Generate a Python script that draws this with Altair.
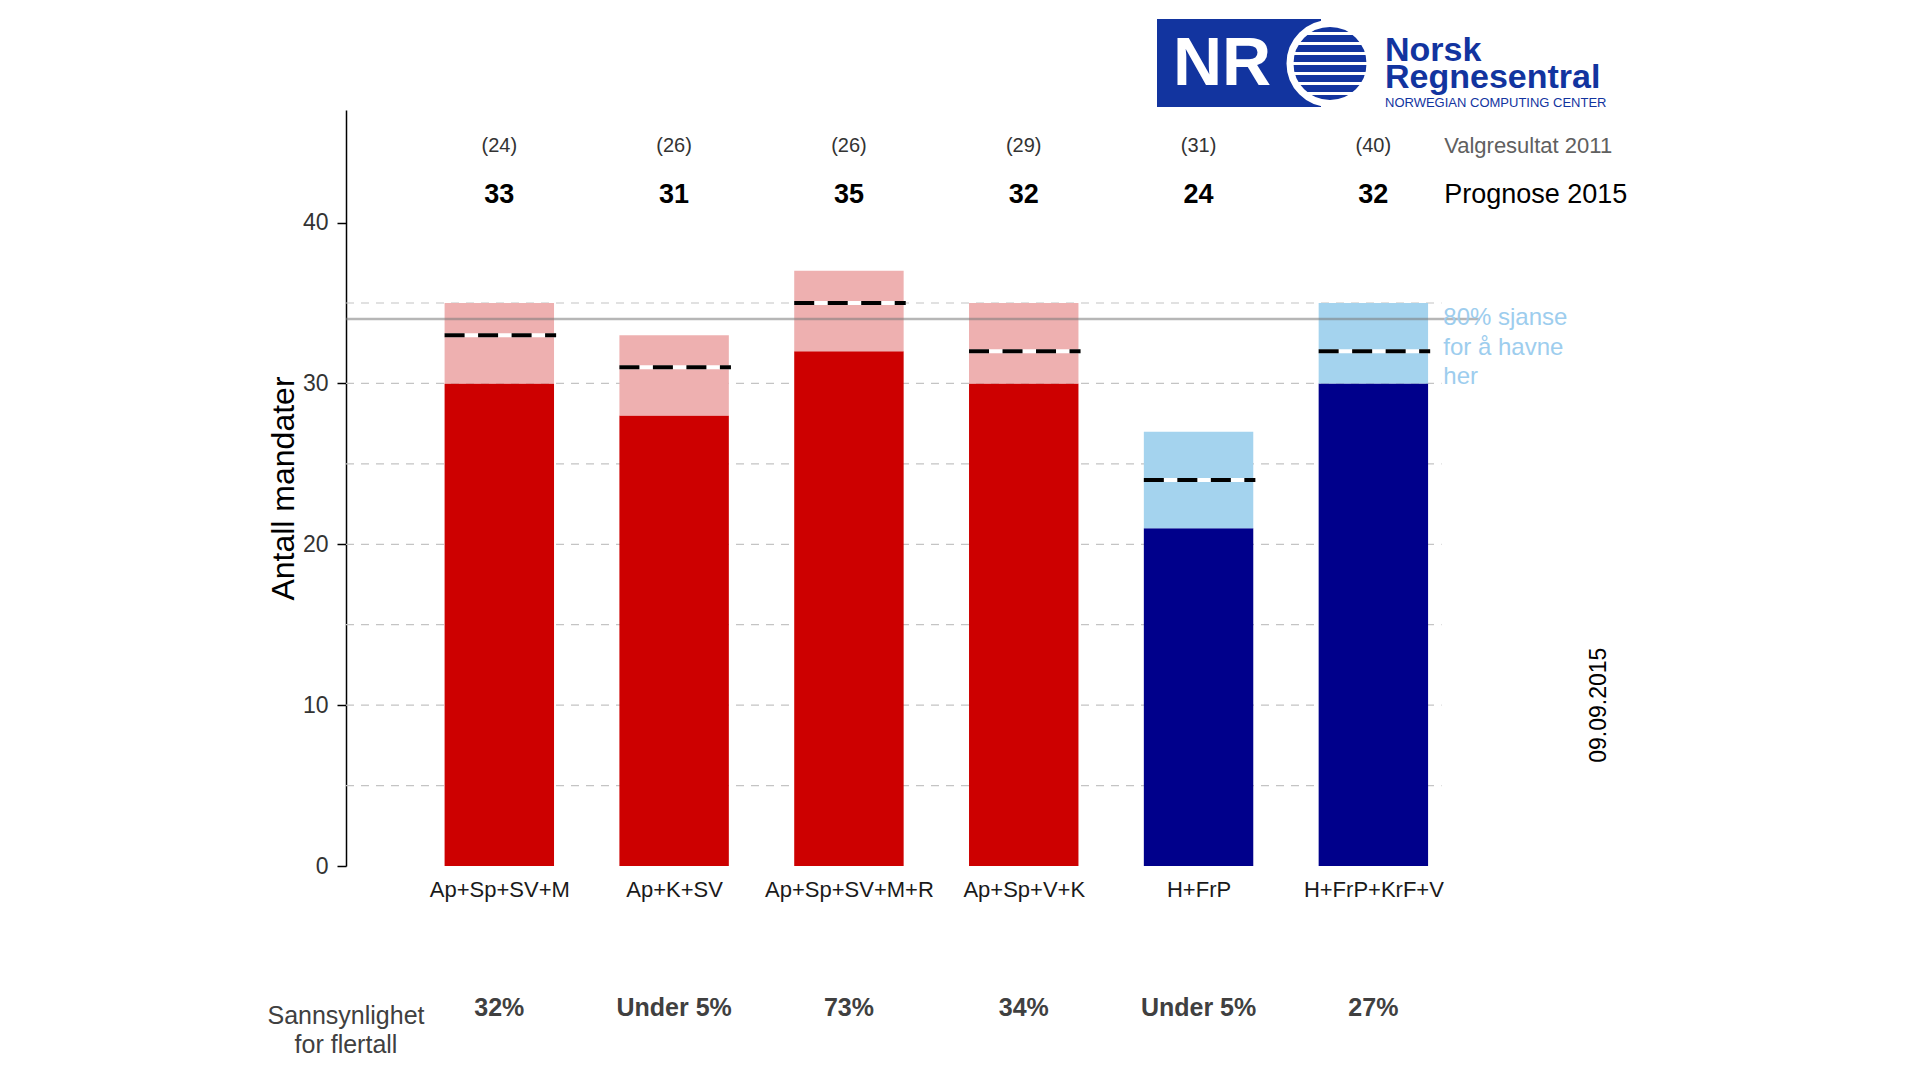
import json
import math
import altair as alt
import pandas as pd

# ---------------- data ----------------
categories = ["Ap+Sp+SV+M", "Ap+K+SV", "Ap+Sp+SV+M+R", "Ap+Sp+V+K", "H+FrP", "H+FrP+KrF+V"]
prognose_2015 = [33, 31, 35, 32, 24, 32]
valgresultat_2011 = [24, 26, 26, 29, 31, 40]
lav_80 = [30, 28, 32, 30, 21, 30]
hoy_80 = [35, 33, 37, 35, 27, 35]
sannsynlighet = ["32%", "Under 5%", "73%", "34%", "Under 5%", "27%"]
blokk = ["rødgrønn", "rødgrønn", "rødgrønn", "rødgrønn", "borgerlig", "borgerlig"]
grid_values = [5, 10, 15, 20, 25, 30, 35]
y_ticks = [0, 10, 20, 30, 40]
flertall = 34

FONT = "Liberation Sans"
X_MIN, X_MAX, GRID_END = 0.123, 6.61, 6.39
HALF = 0.313
W, H = 1134, 756

df = pd.DataFrame({
    "idx": list(range(1, len(categories) + 1)),
    "kat": categories,
    "prog": prognose_2015,
    "v2011": valgresultat_2011,
    "lo": lav_80,
    "hi": hoy_80,
    "sann": sannsynlighet,
    "blokk": blokk,
})

x_scale = alt.Scale(domain=[X_MIN, X_MAX], nice=False, zero=False)
y_scale = alt.Scale(domain=[0, 47], nice=False, zero=True)

label_expr = json.dumps(categories) + "[datum.value - 1]"
x_axis = alt.Axis(values=list(range(1, len(categories) + 1)), labelExpr=label_expr,
                  domain=False, ticks=False, grid=False, title=None,
                  labelFont=FONT, labelFontSize=22, labelColor="#1A1A1A",
                  labelPadding=13, labelOverlap=False, labelFlush=False, labelBound=False)
y_axis = alt.Axis(values=y_ticks, grid=False, title="Antall mandater",
                  domainColor="black", domainWidth=1.5, tickColor="black", tickWidth=1.5,
                  tickSize=9, labelPadding=9, labelFont=FONT, labelFontSize=23,
                  labelColor="#333333", titleFont=FONT, titleFontSize=32,
                  titleFontWeight="normal", titleColor="black", titlePadding=2,
                  labelFlush=False)

base = alt.Chart(df)

grid = alt.Chart(pd.DataFrame({"g": grid_values})).mark_rule(
    color="#C4C4C4", strokeWidth=1.2, strokeDash=[8, 7]
).encode(
    x=alt.XDatum(X_MIN, type="quantitative", scale=x_scale, axis=x_axis),
    x2=alt.X2Datum(GRID_END),
    y=alt.Y("g:Q", scale=y_scale, axis=y_axis),
)

dark_bars = base.mark_bar().transform_calculate(
    x0=f"datum.idx - {HALF}", x1=f"datum.idx + {HALF}"
).encode(
    x=alt.X("x0:Q", scale=x_scale, axis=x_axis),
    x2="x1:Q",
    y=alt.Y("lo:Q", scale=y_scale, axis=y_axis),
    y2=alt.Y2Datum(0),
    color=alt.condition(alt.datum.blokk == "rødgrønn", alt.value("#CD0000"), alt.value("#00008B")),
)

light_bars = base.mark_bar().transform_calculate(
    x0=f"datum.idx - {HALF}", x1=f"datum.idx + {HALF}"
).encode(
    x=alt.X("x0:Q", scale=x_scale),
    x2="x1:Q",
    y=alt.Y("lo:Q", scale=y_scale),
    y2="hi:Q",
    color=alt.condition(alt.datum.blokk == "rødgrønn", alt.value("#EEB0B0"), alt.value("#A4D3EE")),
)

prog_under = base.mark_rule(color="white", strokeWidth=4).transform_calculate(
    x0=f"datum.idx - {HALF}", x1=f"datum.idx + {HALF} + 0.012"
).encode(x=alt.X("x0:Q", scale=x_scale), x2="x1:Q", y=alt.Y("prog:Q", scale=y_scale))

prog_line = base.mark_rule(color="black", strokeWidth=4, strokeDash=[20, 13.5]).transform_calculate(
    x0=f"datum.idx - {HALF}", x1=f"datum.idx + {HALF} + 0.012"
).encode(x=alt.X("x0:Q", scale=x_scale), x2="x1:Q", y=alt.Y("prog:Q", scale=y_scale))

majority = alt.Chart(pd.DataFrame({"m": [flertall]})).mark_rule(
    color="#7A7A7A", strokeWidth=2.5, opacity=0.55
).encode(x=alt.XDatum(X_MIN), x2=alt.X2Datum(X_MAX), y=alt.Y("m:Q", scale=y_scale))

v2011_text = base.mark_text(font=FONT, fontSize=20, color="#333333").transform_calculate(
    lab="'(' + datum.v2011 + ')'"
).encode(x=alt.X("idx:Q", scale=x_scale), y=alt.YDatum(44.75), text="lab:N")

prog_text = base.mark_text(font=FONT, fontSize=27, fontWeight="bold", color="black").encode(
    x=alt.X("idx:Q", scale=x_scale), y=alt.YDatum(41.7), text="prog:N")

sann_text = base.mark_text(font=FONT, fontSize=25, fontWeight="bold", color="#404040").encode(
    x=alt.X("idx:Q", scale=x_scale), y=alt.YDatum(-8.8), text="sann:N")

one = pd.DataFrame({"a": [0]})

valg_label = alt.Chart(one).mark_text(
    font=FONT, fontSize=22, color="#606060", align="left", text="Valgresultat 2011"
).encode(x=alt.XDatum(6.405), y=alt.YDatum(44.75))

prog_label = alt.Chart(one).mark_text(
    font=FONT, fontSize=27, color="black", align="left", text="Prognose 2015"
).encode(x=alt.XDatum(6.405), y=alt.YDatum(41.7))

sjanse_label = alt.Chart(one).mark_text(
    font=FONT, fontSize=24, color="#9DCDEE", align="left", baseline="top",
    lineBreak="\n", lineHeight=29.5, text="80% sjanse\nfor å havne\nher"
).encode(x=alt.XDatum(6.4), y=alt.YDatum(34.8))

sann_label = alt.Chart(one).mark_text(
    font=FONT, fontSize=25, color="#404040", align="center", baseline="top",
    lineBreak="\n", lineHeight=29.5, text="Sannsynlighet\nfor flertall"
).encode(x=alt.XDatum(X_MIN), y=alt.YDatum(-8.55))

date_label = alt.Chart(one).mark_text(
    font=FONT, fontSize=23, color="black", angle=270, align="center", baseline="middle",
    text="09.09.2015"
).encode(x=alt.XDatum(7.29), y=alt.YDatum(10))

# ---------------- logo (decoration, pixel positions relative to plot) ----------------
LOGO_BLUE = "#12349F"
cx, cy, r = 984, -46.5, 40
logo_rect = alt.Chart(one).mark_rect(color=LOGO_BLUE).encode(
    x=alt.value(811), x2=alt.value(975), y=alt.value(-91), y2=alt.value(-3))
logo_circle = alt.Chart(one).mark_point(
    shape="circle", filled=True, fill=LOGO_BLUE, stroke="white", strokeWidth=7,
    size=(2 * r) ** 2, opacity=1
).encode(x=alt.value(cx), y=alt.value(cy))
stripe_dy = [-30, -20, -10, 0, 10, 20, 30]
stripes = pd.DataFrame({"dy": stripe_dy})
logo_stripes = alt.Chart(stripes).mark_rule(color="white", strokeWidth=3).transform_calculate(
    px0=f"{cx} - sqrt({r*r} - datum.dy*datum.dy)",
    px1=f"{cx} + sqrt({r*r} - datum.dy*datum.dy)",
    py=f"{cy} + datum.dy",
).encode(x=alt.X("px0:Q", scale=None), x2="px1:Q", y=alt.Y("py:Q", scale=None))
logo_nr = alt.Chart(one).mark_text(
    font=FONT, fontSize=68, fontWeight="bold", color="white", align="center",
    baseline="middle", text="NR"
).encode(x=alt.value(876), y=alt.value(-45))
logo_name = alt.Chart(one).mark_text(
    font=FONT, fontSize=34, fontWeight="bold", color=LOGO_BLUE, align="left",
    baseline="alphabetic", lineBreak="\n", lineHeight=27, text="Norsk\nRegnesentral"
).encode(x=alt.value(1039), y=alt.value(-49))
logo_sub = alt.Chart(one).mark_text(
    font=FONT, fontSize=13, color=LOGO_BLUE, align="left",
    baseline="alphabetic", text="NORWEGIAN COMPUTING CENTER"
).encode(x=alt.value(1039), y=alt.value(-3))

chart = alt.layer(
    grid, dark_bars, light_bars, prog_under, prog_line, majority,
    v2011_text, prog_text, sann_text, valg_label, prog_label, sjanse_label,
    sann_label, date_label,
    logo_rect, logo_circle, logo_stripes, logo_nr, logo_name, logo_sub,
).properties(
    width=W, height=H,
    autosize=alt.AutoSizeParams(type="none"),
    padding={"left": 338, "top": 102, "right": 420, "bottom": 200},
).configure(background="white", view=alt.ViewConfig(stroke=None))

chart.save("out.html", embed_options={"renderer": "svg", "actions": False})
